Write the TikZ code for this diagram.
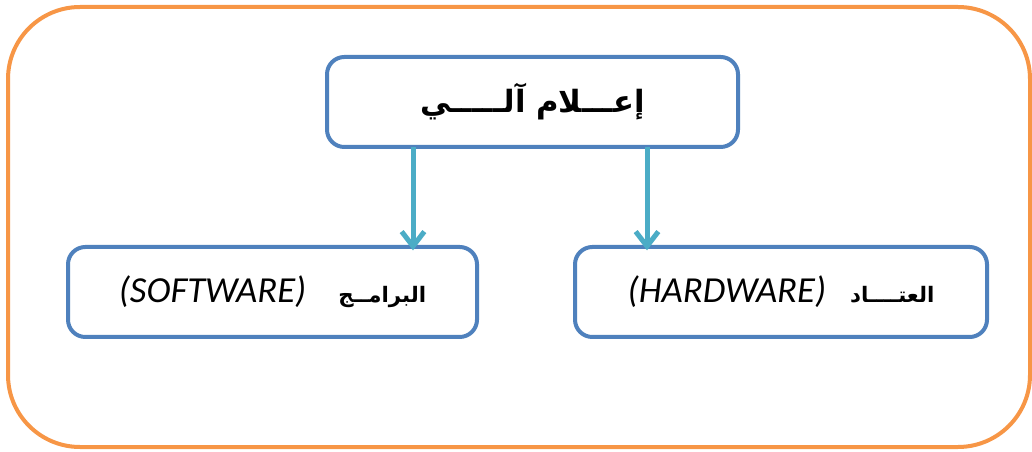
\documentclass[tikz,border=0pt]{standalone}
\usepackage{fontspec}
\setmainfont{Carlito}
\newfontfamily\arabicfont[Script=Arabic]{DejaVu Sans}
\newfontfamily\latinfont{Carlito}
\TeXXeTstate=1
\usetikzlibrary{arrows.meta}
\definecolor{frameorange}{HTML}{F79646}
\definecolor{boxblue}{HTML}{4F81BD}
\definecolor{arrowcyan}{HTML}{4BACC6}
\tikzset{
  frame/.style={draw=frameorange, line width=3pt, rounded corners=54pt, fill=white},
  blockbox/.style={draw=boxblue, line width=3pt, rounded corners=13pt, fill=white, align=center, inner sep=0pt},
  arr/.style={draw=arrowcyan, line width=3.75pt, -{Straight Barb[length=11pt, width=17pt]}, shorten >=-4pt},
}
\begin{document}
\begin{tikzpicture}[x=0.75pt, y=-0.75pt]
\useasboundingbox (0,0) rectangle (1032,452);
\node[frame, minimum width=766.5pt, minimum height=330pt] (outer) at (519,227) {};
\node[blockbox, minimum width=308.25pt, minimum height=67.5pt] (top) at (532.5,102)
  {\arabicfont\bfseries\fontsize{23}{27}\selectfont\beginR إعـــلام آلـــــي\endR};
\node[blockbox, minimum width=306.75pt, minimum height=67.5pt] (lft) at (272.5,292)
  {{\latinfont\itshape\fontsize{27.5}{32}\selectfont (SOFTWARE)}\hspace{24pt}{\arabicfont\bfseries\fontsize{16}{19}\selectfont\beginR البرامــج\endR}};
\node[blockbox, minimum width=309pt, minimum height=67.5pt] (rgt) at (781,292)
  {{\latinfont\itshape\fontsize{27.5}{32}\selectfont (HARDWARE)}\hspace{18pt}{\arabicfont\bfseries\fontsize{16}{19}\selectfont\beginR العتــــاد\endR}};
\coordinate (xa) at (413,0);
\coordinate (xb) at (647,0);
\draw[arr] ([yshift=1.5pt]top.south -| xa) -- (lft.north -| xa);
\draw[arr] ([yshift=1.5pt]top.south -| xb) -- (rgt.north -| xb);
\end{tikzpicture}
\end{document}
